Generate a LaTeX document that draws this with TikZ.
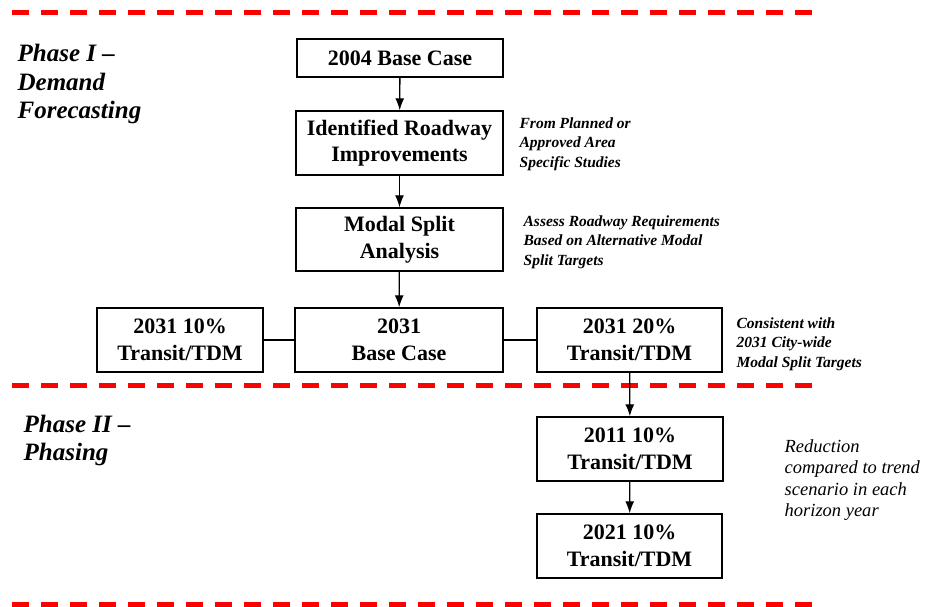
\documentclass[tikz,border=0pt]{standalone}
\usepackage{fontspec}
\setmainfont{Liberation Serif}
\usetikzlibrary{arrows.meta,positioning}
\tikzset{
    -{Latex[length=12pt,width=9pt]},
    box/.style ={rectangle, draw, line width=1.4pt, inner sep=0pt, align=center,
        font=\fontsize{22}{26.5}\selectfont\bfseries},
    note/.style ={anchor=north west, inner sep=0pt, align=left,
        font=\fontsize{15.5}{19.5}\selectfont\bfseries\itshape},
    phase/.style ={anchor=north west, inner sep=0pt, align=left,
        font=\fontsize{25}{28.5}\selectfont\bfseries\itshape},
    plain/.style={-},
    divider/.style={-, red, line width=5pt, dash pattern=on 17pt off 12pt}
}

\begin{document}
\begin{tikzpicture}[x=1pt,y=-1pt,line width=1.3pt]
    \useasboundingbox (0,0) rectangle (926,607);

    % phase dividers
    \coordinate (t1) at (12,12.5);   \coordinate (t2) at (813,12.5);
    \coordinate (m1) at (12,385.5);  \coordinate (m2) at (813,385.5);
    \coordinate (b1) at (12,604.5);  \coordinate (b2) at (813,604.5);
    \draw[divider] (t1) -- (t2);
    \draw[divider] (m1) -- (m2);
    \draw[divider] (b1) -- (b2);

    \node[phase] (ph1) at (17,44) {Phase I --\\Demand\\Forecasting};
    \node[phase] (ph2) at (23,414) {Phase II --\\Phasing};

    \node[box, minimum width=206, minimum height=38] (base) at (400,58) {2004 Base Case};
    \node[box, minimum width=207, minimum height=64] (road) at (399.5,143) {Identified Roadway\\Improvements};
    \node[box, minimum width=207, minimum height=63] (modal) at (399.5,239.5) {Modal Split\\Analysis};
    \node[box, minimum width=208, minimum height=64] (mid) at (399,340) {2031\\Base Case};
    \node[box, minimum width=166, minimum height=64] (lo) at (180,340) {2031 10\%\\Transit/TDM};
    \node[box, minimum width=185, minimum height=64] (hi) at (629.5,340) {2031 20\%\\Transit/TDM};
    \node[box, minimum width=186, minimum height=64] (p11) at (630,449) {2011 10\%\\Transit/TDM};
    \node[box, minimum width=185, minimum height=64] (p21) at (629.5,546) {2021 10\%\\Transit/TDM};

    \node[note] (n1) at (519,117) {From Planned or\\Approved Area\\Specific Studies};
    \node[note] (n2) at (523,215) {Assess Roadway Requirements\\Based on Alternative Modal\\Split Targets};
    \node[note] (n3) at (736,317) {Consistent with\\2031 City-wide\\Modal Split Targets};
    \node[note, font=\fontsize{18.5}{21.5}\selectfont\itshape] (n4) at (784,439)
        {Reduction\\compared to trend\\scenario in each\\horizon year};

    \path (base) edge (road);
    \path (road) edge (modal);
    \path (modal) edge (mid);
    \path[plain] (lo) edge (mid);
    \path[plain] (mid) edge (hi);
    \path (hi) edge (p11);
    \path (p11) edge (p21);

\end{tikzpicture}
\end{document}
